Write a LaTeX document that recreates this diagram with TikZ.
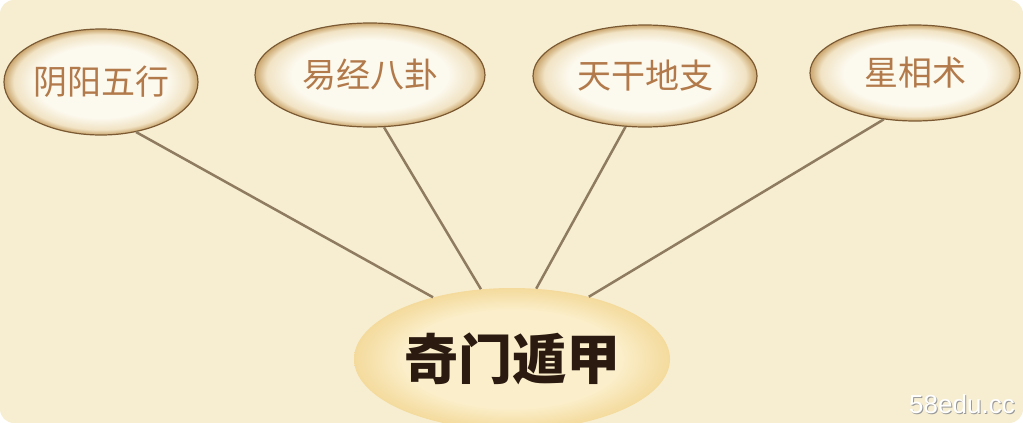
\documentclass[tikz,border=0pt]{standalone}
\usepackage{fontspec}
\usetikzlibrary{shapes.geometric}
\newfontfamily\cjk{Noto Sans CJK SC}
\newfontfamily\wmfont{Liberation Sans}
\definecolor{paper}{HTML}{F7EED1}
\definecolor{ballin}{HTML}{FCF9EE}
\definecolor{ballmid}{HTML}{F1E3C4}
\definecolor{ballout}{HTML}{CDAA74}
\definecolor{ballrim}{HTML}{7B5A33}
\definecolor{itemtext}{HTML}{B27A4A}
\definecolor{linkcol}{HTML}{8E7B60}
\definecolor{mainin}{HTML}{FBEFCB}
\definecolor{mainout}{HTML}{F4DA9C}
\definecolor{maintext}{HTML}{2B1A10}
\pgfdeclareradialshading{topball}{\pgfpoint{0bp}{0bp}}{color(0bp)=(ballin); color(17bp)=(ballin); color(22.5bp)=(ballmid); color(24.8bp)=(ballout); color(50bp)=(ballout)}
\pgfdeclareradialshading{mainball}{\pgfpoint{0bp}{0bp}}{color(0bp)=(mainin); color(17bp)=(mainin); color(25bp)=(mainout); color(50bp)=(mainout)}

\begin{document}
\begin{tikzpicture}[x=1pt,y=-1pt]
			\tikzset{topitem/.style={ellipse,draw=ballrim,line width=1.2pt,shade,shading=topball,inner sep=0pt,font=\cjk\fontsize{34}{34}\selectfont,text=itemtext},
				mainitem/.style={ellipse,shade,shading=mainball,inner sep=0pt,font=\cjk\bfseries\fontsize{54}{54}\selectfont,text=maintext},
				link/.style={draw=linkcol,line width=2.5pt}}
			\useasboundingbox (0,0) rectangle (1023,423);
			\fill[white] (0,0) rectangle (1023,423);
			\fill[paper,rounded corners=14pt] (0,0) rectangle (1023,423);
			% top four
			\node[topitem,minimum width=194pt,minimum height=106pt] (yinyang) at (101,82) {阴阳五行};
			\node[topitem,minimum width=230pt,minimum height=104pt] (yijing) at (370,75) {易经八卦};
			\node[topitem,minimum width=224pt,minimum height=102pt] (tiangan) at (645,76) {天干地支};
			\node[topitem,minimum width=210pt,minimum height=96pt] (xingxiang) at (915,73) {星相术};
			% bottom
			\node[mainitem,minimum width=316pt,minimum height=142pt] (qimen) at (512,359) {奇门遁甲};
			\draw[link] (yinyang.-55) -- (qimen.142);
			\draw[link] (yijing.-75) -- (qimen.114);
			\draw[link] (tiangan.-111) -- (qimen.71);
			\draw[link] (xingxiang.-124) -- (qimen.39);
			% watermark
			\node[font=\wmfont\fontsize{26}{26}\selectfont,text=black!40] (markshadow) at (963,405) {58edu.cc};
			\node[font=\wmfont\fontsize{26}{26}\selectfont,text=white] (mark) at (962,404) {58edu.cc};
		\end{tikzpicture}
\end{document}
